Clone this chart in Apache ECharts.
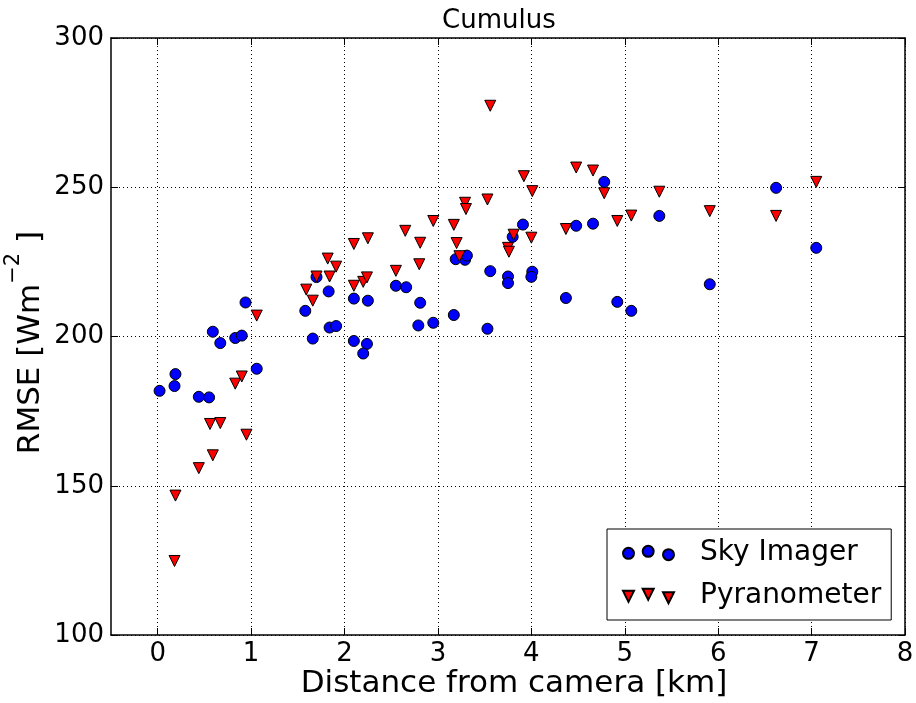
<!DOCTYPE html>
<html>
<head>
<meta charset="utf-8">
<title>Cumulus</title>
<script src="https://cdn.jsdelivr.net/npm/echarts@6/dist/echarts.min.js"></script>
<style>
  html, body { margin: 0; padding: 0; background: #fff; }
  #chart { width: 916px; height: 703px; }
</style>
</head>
<body>
<div id="chart"></div>
<script>
// Distance from camera [km] and RMSE [W m^-2] for each station
const skyDist = [0.02, 0.19, 0.18, 0.44, 0.55, 0.59, 0.67, 0.83, 0.90, 0.94, 1.06,
  1.58, 1.66, 1.70, 1.83, 1.84, 1.91, 2.10, 2.25, 2.10, 2.24, 2.20,
  2.55, 2.66, 2.81, 2.79, 2.95, 3.17, 3.19, 3.29, 3.31, 3.56, 3.53,
  3.75, 3.75, 3.80, 3.91, 4.01, 4.00, 4.37, 4.48, 4.66, 4.78, 4.92,
  5.07, 5.37, 5.91, 6.62, 7.05];
const skyRmse = [181.8, 187.4, 183.4, 179.8, 179.6, 201.6, 197.8, 199.5, 200.3, 211.4, 189.2,
  208.6, 199.3, 219.9, 215.1, 203.0, 203.5, 212.7, 212.0, 198.5, 197.5, 194.3,
  217.0, 216.5, 211.3, 203.7, 204.6, 207.2, 225.9, 225.7, 227.1, 221.9, 202.6,
  220.1, 217.9, 233.4, 237.5, 221.7, 220.0, 212.9, 237.1, 237.8, 251.8, 211.6,
  208.6, 240.4, 217.5, 249.8, 229.7];

const pyrDist = [0.19, 0.18, 0.44, 0.59, 0.56, 0.67, 0.95, 0.83, 0.90, 1.06,
  1.59, 1.66, 1.70, 1.82, 1.84, 1.91, 2.10, 2.25, 2.10, 2.20, 2.24,
  2.65, 2.55, 2.81, 2.80, 2.95, 3.17, 3.20, 3.23, 3.29, 3.30, 3.53, 3.56,
  3.92, 4.01, 4.48, 4.66, 4.78, 4.92, 5.07, 5.37, 5.91,
  3.81, 4.00, 3.75, 3.76, 4.37, 6.62, 7.05];
const pyrRmse = [146.7, 124.8, 155.9, 160.2, 170.7, 171.0, 167.1, 184.2, 186.6, 207.0,
  215.7, 212.0, 220.1, 226.1, 220.1, 223.4, 231.0, 232.9, 217.0, 218.3, 219.8,
  235.4, 222.0, 231.4, 224.2, 238.7, 237.4, 231.3, 226.9, 244.8, 242.7, 245.9, 277.3,
  253.7, 248.7, 256.6, 255.6, 248.0, 238.7, 240.5, 248.5, 242.0,
  234.1, 233.1, 229.7, 228.4, 236.0, 240.4, 251.8];

const seriesNames = ['Sky Imager', 'Pyranometer'];
const xTicks = [0, 1, 2, 3, 4, 5, 6, 7, 8];

const FONT = 'DejaVu Sans';

function pairs(xs, ys) {
  return xs.map((x, i) => [x, ys[i]]);
}

// Legend keys: three staggered markers per entry
function circle(cx, cy, r) {
  return 'M' + (cx - r) + ' ' + cy + 'A' + r + ' ' + r + ' 0 1 0 ' + (cx + r) + ' ' + cy +
         'A' + r + ' ' + r + ' 0 1 0 ' + (cx - r) + ' ' + cy + 'Z';
}
function triDown(cx, cy, h) {
  return 'M' + (cx - h) + ' ' + (cy - h) + 'L' + (cx + h) + ' ' + (cy - h) + 'L' + cx + ' ' + (cy + h) + 'Z';
}
const keyCentres = [[5.5, 7.5], [25.2, 5.5], [45.5, 8.8]];
const circleKey = 'path://' + keyCentres.map(c => circle(c[0], c[1], 5.5)).join('');
const triKey = 'path://' + keyCentres.map(c => triDown(c[0], c[1], 5.5)).join('');

const chart = echarts.init(document.getElementById('chart'), null, { renderer: 'canvas' });

const frame = { show: true, onZero: false, lineStyle: { color: '#000', width: 1.5 } };
const grid = { type: [1, 3], color: '#000', width: 1 };

chart.setOption({
  animation: false,
  backgroundColor: '#fff',
  textStyle: { fontFamily: FONT },
  title: {
    text: 'Cumulus',
    left: 442,
    top: 8,
    padding: 0,
    textStyle: { fontFamily: FONT, fontSize: 26, fontWeight: 'normal', color: '#000' }
  },
  grid: { left: 111, right: 11, top: 38, bottom: 68, containLabel: false, outerBoundsMode: 'none' },
  legend: {
    orient: 'vertical',
    left: 607,
    top: 529,
    padding: [8, 10, 8, 15],
    itemWidth: 51,
    itemHeight: 14.3,
    itemGap: 11,
    borderColor: '#000',
    borderWidth: 1,
    backgroundColor: '#fff',
    selectedMode: false,
    textStyle: { fontFamily: FONT, fontSize: 28, color: '#000', lineHeight: 32, padding: [0, 0, 0, 21] },
    data: [
      { name: seriesNames[0], icon: circleKey },
      { name: seriesNames[1], icon: triKey }
    ]
  },
  xAxis: [
    {
      type: 'value', min: -0.5, max: 8, position: 'bottom',
      name: 'Distance from camera [km]', nameLocation: 'middle', nameGap: 33,
      nameMoveOverlap: false,
      nameTextStyle: { fontFamily: FONT, fontSize: 31, color: '#000', padding: [0, 0, 0, 12] },
      axisLine: frame,
      axisTick: { show: true, inside: true, length: 7, customValues: xTicks, lineStyle: { color: '#000', width: 1 } },
      axisLabel: { customValues: xTicks, margin: 6, fontFamily: FONT, fontSize: 26, color: '#000' },
      splitLine: { show: true, lineStyle: grid }
    },
    {
      type: 'value', min: -0.5, max: 8, position: 'top',
      axisLine: frame,
      axisTick: { show: true, inside: true, length: 7, customValues: xTicks, lineStyle: { color: '#000', width: 1 } },
      axisLabel: { show: false },
      splitLine: { show: false }
    }
  ],
  yAxis: [
    {
      type: 'value', min: 100, max: 300, interval: 50, position: 'left',
      name: '{m|RMSE [Wm}{s|−2}{m| ]}', nameLocation: 'middle', nameGap: 65,
      nameMoveOverlap: false,
      nameTextStyle: {
        color: '#000',
        padding: [0, 12, 0, 0],
        rich: {
          m: { fontFamily: FONT, fontSize: 31, color: '#000', lineHeight: 36, verticalAlign: 'bottom' },
          s: { fontFamily: FONT, fontSize: 21, color: '#000', lineHeight: 21, verticalAlign: 'bottom', padding: [0, 0, 22, 0] }
        }
      },
      axisLine: frame,
      axisTick: { show: true, inside: true, length: 7, lineStyle: { color: '#000', width: 1 } },
      axisLabel: { margin: 7, fontFamily: FONT, fontSize: 26, color: '#000' },
      splitLine: { show: true, lineStyle: grid }
    },
    {
      type: 'value', min: 100, max: 300, interval: 50, position: 'right',
      axisLine: frame,
      axisTick: { show: true, inside: true, length: 7, lineStyle: { color: '#000', width: 1 } },
      axisLabel: { show: false },
      splitLine: { show: false }
    }
  ],
  series: [
    {
      name: seriesNames[0], type: 'scatter', xAxisIndex: 0, yAxisIndex: 0,
      symbol: 'circle', symbolSize: 11,
      itemStyle: { color: '#0000ff', borderColor: '#000', borderWidth: 1, opacity: 1 },
      data: pairs(skyDist, skyRmse)
    },
    {
      name: seriesNames[1], type: 'scatter', xAxisIndex: 0, yAxisIndex: 0,
      symbol: 'triangle', symbolRotate: 180, symbolSize: 11,
      itemStyle: { color: '#ff0000', borderColor: '#000', borderWidth: 1, opacity: 1 },
      data: pairs(pyrDist, pyrRmse)
    }
  ]
});
</script>
</body>
</html>
